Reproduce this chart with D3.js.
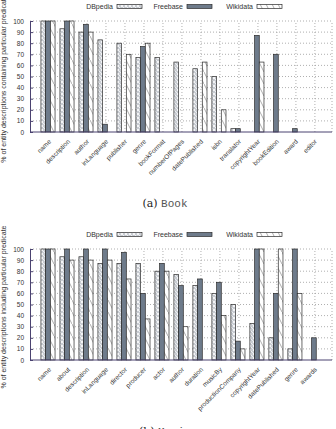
<meta charset="utf-8" />
<script src="https://d3js.org/d3.v7.min.js"></script>
<style>
  body { margin: 0; background: #fff; }
  svg text { font-family: "Liberation Sans", Arial, sans-serif; fill: #333; }
  .grid line { stroke: #9a9a9a; stroke-dasharray: 1, 2; stroke-width: 0.8; }
  .axis path, .axis line { stroke: #4b4370; }
</style>
<svg width="336" height="429"></svg>
<script>
  var seriesNames = ["DBpedia", "Freebase", "Wikidata"];
  var yTicks = [0, 10, 20, 30, 40, 50, 60, 70, 80, 90, 100];

  var bookCategories = ["name", "description", "author", "inLanguage", "publisher", "genre",
    "bookFormat", "numberOfPages", "datePublished", "isbn", "translator", "copyrightYear",
    "bookEdition", "award", "editor"];
  var bookDBpedia  = [100, 93, 90, 83, 80, 67, 67, 63, 57, 50, 3, 0, 0, 0, 0];
  var bookFreebase = [100, 100, 97, 7, 0, 77, 0, 0, 0, 0, 3, 87, 70, 3, 0];
  var bookWikidata = [100, 100, 90, 0, 70, 80, 0, 0, 63, 20, 0, 63, 0, 0, 0];

  var movieCategories = ["name", "about", "description", "inLanguage", "director", "producer",
    "actor", "author", "duration", "musicBy", "productionCompany", "copyrightYear",
    "datePublished", "genre", "awards"];
  var movieDBpedia  = [100, 93, 93, 87, 87, 87, 80, 77, 67, 60, 50, 33, 20, 10, 0];
  var movieFreebase = [100, 100, 100, 100, 97, 60, 87, 67, 73, 70, 17, 100, 60, 100, 20];
  var movieWikidata = [100, 90, 90, 90, 73, 37, 80, 30, 0, 40, 10, 100, 100, 60, 0];

  var svg = d3.select("svg");
  var defs = svg.append("defs");

  // DBpedia: small rings pattern
  var p1 = defs.append("pattern").attr("id", "pDB").attr("patternUnits", "userSpaceOnUse")
    .attr("width", 4).attr("height", 4);
  p1.append("rect").attr("width", 4).attr("height", 4).attr("fill", "#c8ccd2");
  p1.append("circle").attr("cx", 2).attr("cy", 2).attr("r", 1.1).attr("fill", "#fff");
  p1.append("circle").attr("cx", 0).attr("cy", 0).attr("r", 0.9).attr("fill", "#fff");
  p1.append("circle").attr("cx", 4).attr("cy", 4).attr("r", 0.9).attr("fill", "#fff");

  // Wikidata: sparse diagonal lines
  var p2 = defs.append("pattern").attr("id", "pWD").attr("patternUnits", "userSpaceOnUse")
    .attr("width", 6).attr("height", 12);
  p2.append("rect").attr("width", 6).attr("height", 12).attr("fill", "#fff");
  p2.append("line").attr("x1", 0).attr("y1", 0).attr("x2", 6).attr("y2", 12)
    .attr("stroke", "#777").attr("stroke-width", 0.6);

  var fills = ["url(#pDB)", "#6e7b8b", "url(#pWD)"];

  var x = d3.scaleLinear().domain([-1, 14.9]).range([30, 332]);
  var bw = 4.7;

  function drawChart(top, categories, series, yLabel, capA, capB) {
    var y = d3.scaleLinear().domain([0, 100]).range([top + 111, top]);
    var g = svg.append("g");

    // grid
    var grid = g.append("g").attr("class", "grid");
    grid.selectAll(".h").data(yTicks.slice(1)).enter().append("line")
      .attr("x1", x(-1)).attr("x2", x(14.9))
      .attr("y1", function (d) { return y(d); }).attr("y2", function (d) { return y(d); });
    grid.selectAll(".v").data(d3.range(categories.length).concat([14.9])).enter().append("line")
      .attr("x1", function (d) { return x(d); }).attr("x2", function (d) { return x(d); })
      .attr("y1", y(0)).attr("y2", y(100));

    // bars
    series.forEach(function (vals, si) {
      g.selectAll(".bar" + si).data(vals).enter().append("rect")
        .attr("x", function (d, i) { return x(i) - 1 - 1.5 * bw + si * bw; })
        .attr("y", function (d) { return y(d); })
        .attr("width", bw)
        .attr("height", function (d) { return y(0) - y(d); })
        .attr("fill", fills[si])
        .attr("stroke", "#2b2b2b")
        .attr("stroke-width", 0.7)
        .style("display", function (d) { return d > 0 ? null : "none"; });
    });

    // y axis
    g.append("g").attr("class", "axis")
      .attr("transform", "translate(" + x(-1) + ",0)")
      .call(d3.axisLeft(y).tickValues(yTicks).tickSizeInner(-3).tickSizeOuter(0).tickPadding(6))
      .call(function (a) { a.selectAll("text").style("font-size", "6.5px").attr("fill", "#444"); });

    // x axis
    var xa = g.append("g").attr("class", "axis")
      .attr("transform", "translate(0," + y(0) + ")")
      .call(d3.axisBottom(x).tickValues(d3.range(categories.length))
        .tickFormat(function (i) { return categories[i]; })
        .tickSize(0).tickSizeOuter(0));
    xa.select(".domain").attr("d", "M" + x(-1) + ",0H" + x(14.9));
    xa.selectAll("text")
      .style("font-size", "6.5px").attr("fill", "#444")
      .attr("text-anchor", "end")
      .attr("dy", null).attr("y", 0)
      .attr("transform", "translate(2,10) rotate(-45)");

    // y label
    g.append("text")
      .attr("transform", "translate(6," + (top + 58) + ") rotate(-90)")
      .attr("text-anchor", "middle")
      .style("font-size", "7px")
      .attr("fill", "#444")
      .text(yLabel);

    // legend
    var lx = [117, 187, 257];
    seriesNames.forEach(function (name, si) {
      g.append("text").attr("x", lx[si] - 4).attr("y", top - 12)
        .attr("text-anchor", "end").style("font-size", "7px").attr("fill", "#333").text(name);
      g.append("rect").attr("x", lx[si]).attr("y", top - 16.5).attr("width", 25).attr("height", 4)
        .attr("fill", fills[si]).attr("stroke", "#2b2b2b").attr("stroke-width", 0.7);
    });

    // caption
    var cap = svg.append("text").attr("x", 165).attr("y", top + 186)
      .attr("text-anchor", "middle").style("font-size", "11px");
    cap.append("tspan").style("font-family", "DejaVu Serif, serif").attr("fill", "#222").text(capA + " ");
    cap.append("tspan").style("font-family", "Liberation Mono, monospace").attr("fill", "#555").text(capB);
  }

  drawChart(21, bookCategories, [bookDBpedia, bookFreebase, bookWikidata],
    "% of entity descriptions containing particular predicate", "(a)", "Book");
  drawChart(249, movieCategories, [movieDBpedia, movieFreebase, movieWikidata],
    "% of entity descriptions including particular predicate", "(b)", "Movie");
</script>
